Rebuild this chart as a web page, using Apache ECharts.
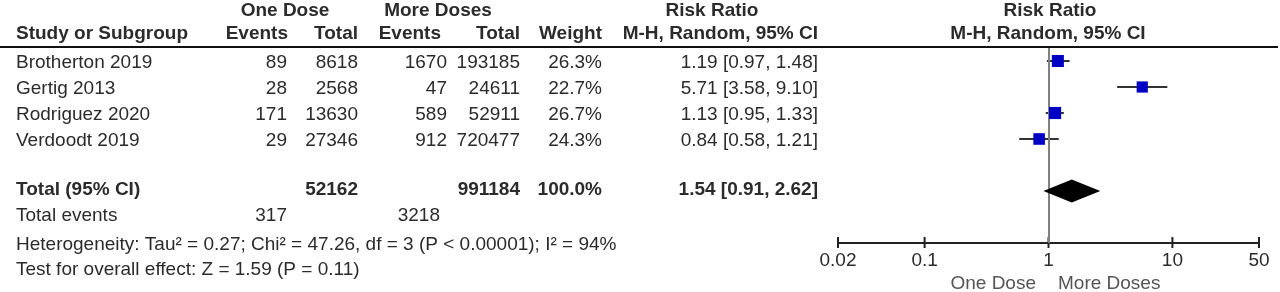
<!DOCTYPE html>
<html>
<head>
<meta charset="utf-8">
<title>Risk Ratio forest plot</title>
<script src="https://cdn.jsdelivr.net/npm/echarts@6/dist/echarts.min.js"></script>
<style>
  html, body { margin: 0; padding: 0; background: #fff; }
  #forestChart { width: 1280px; height: 292px; }
</style>
</head>
<body>
<div id="forestChart"></div>
<script>
// study data
const studies = ['Brotherton 2019', 'Gertig 2013', 'Rodriguez 2020', 'Verdoodt 2019'];
const oneEvents = [89, 28, 171, 29];
const oneTotal = [8618, 2568, 13630, 27346];
const moreEvents = [1670, 47, 589, 912];
const moreTotal = [193185, 24611, 52911, 720477];
const weights = [26.3, 22.7, 26.7, 24.3];
const riskRatio = [1.19, 5.71, 1.13, 0.84];
const ciLow = [0.97, 3.58, 0.95, 0.58];
const ciHigh = [1.48, 9.10, 1.33, 1.21];

// pooled result
const pooled = [1.54, 0.91, 2.62]; // estimate, low, high
const pooledTotals = [52162, 991184];
const pooledWeight = 100.0;
const totalEvents = [317, 3218];
const heterogeneity = 'Heterogeneity: Tau\u00b2 = 0.27; Chi\u00b2 = 47.26, df = 3 (P < 0.00001); I\u00b2 = 94%';
const overallEffect = 'Test for overall effect: Z = 1.59 (P = 0.11)';

const tickValues = [0.02, 0.1, 1, 10, 50];
const tickLabels = ['0.02', '0.1', '1', '10', '50'];

const FONT = '"Liberation Sans", Arial, sans-serif';
const INK = '#2b2b2b';
const POOLED_ROW = 5;

function txt(x, y, text, align, bold, color) {
  return {
    type: 'text',
    x: x,
    y: y,
    silent: true,
    style: {
      text: text,
      fill: color || INK,
      fontFamily: FONT,
      fontSize: 19,
      fontWeight: bold ? 'bold' : 'normal',
      align: align,
      textAlign: align,
      verticalAlign: 'middle',
      textVerticalAlign: 'middle'
    }
  };
}

function ci(i) {
  return riskRatio[i].toFixed(2) + ' [' + ciLow[i].toFixed(2) + ', ' + ciHigh[i].toFixed(2) + ']';
}

// table text
const graphics = [
  txt(285, 11, 'One Dose', 'center', true),
  txt(438, 11, 'More Doses', 'center', true),
  txt(712, 11, 'Risk Ratio', 'center', true),
  txt(1050, 11, 'Risk Ratio', 'center', true),
  txt(16, 34, 'Study or Subgroup', 'left', true),
  txt(288, 34, 'Events', 'right', true),
  txt(358, 34, 'Total', 'right', true),
  txt(441, 34, 'Events', 'right', true),
  txt(520, 34, 'Total', 'right', true),
  txt(602, 34, 'Weight', 'right', true),
  txt(818, 34, 'M-H, Random, 95% CI', 'right', true),
  txt(1048, 34, 'M-H, Random, 95% CI', 'center', true),
  {
    type: 'line',
    silent: true,
    shape: { x1: 0, y1: 47, x2: 1278, y2: 47 },
    style: { stroke: '#111', lineWidth: 2 }
  }
];

studies.forEach(function (name, i) {
  const y = 63 + i * 26;
  graphics.push(
    txt(16, y, name, 'left'),
    txt(287, y, String(oneEvents[i]), 'right'),
    txt(358, y, String(oneTotal[i]), 'right'),
    txt(447, y, String(moreEvents[i]), 'right'),
    txt(520, y, String(moreTotal[i]), 'right'),
    txt(602, y, weights[i].toFixed(1) + '%', 'right'),
    txt(818, y, ci(i), 'right')
  );
});

graphics.push(
  txt(16, 190, 'Total (95% CI)', 'left', true),
  txt(358, 190, String(pooledTotals[0]), 'right', true),
  txt(520, 190, String(pooledTotals[1]), 'right', true),
  txt(602, 190, pooledWeight.toFixed(1) + '%', 'right', true),
  txt(818, 190, pooled[0].toFixed(2) + ' [' + pooled[1].toFixed(2) + ', ' + pooled[2].toFixed(2) + ']', 'right', true),
  txt(16, 216, 'Total events', 'left'),
  txt(287, 216, String(totalEvents[0]), 'right'),
  txt(440, 216, String(totalEvents[1]), 'right'),
  txt(16, 245, heterogeneity, 'left'),
  txt(16, 270, overallEffect, 'left'),
  txt(1036, 284, 'One Dose', 'right', false, '#555'),
  txt(1058, 284, 'More Doses', 'left', false, '#555')
);

const myChart = echarts.init(document.getElementById('forestChart'), null, { renderer: 'canvas' });

const option = {
  animation: false,
  backgroundColor: '#fff',
  grid: { left: 838, right: 21, top: 48, bottom: 49 },
  xAxis: {
    type: 'log',
    logBase: 10,
    min: 0.02,
    max: 50,
    position: 'bottom',
    axisLine: { show: true, onZero: false, lineStyle: { color: '#222', width: 2 } },
    axisTick: { show: false },
    axisLabel: { show: false },
    splitLine: { show: false }
  },
  yAxis: {
    type: 'value',
    inverse: true,
    min: -0.5,
    max: 7,
    show: false
  },
  graphic: graphics,
  series: [
    {
      name: 'ci',
      type: 'custom',
      data: studies.map(function (s, i) { return [ciLow[i], ciHigh[i], i]; }),
      encode: { x: [0, 1], y: 2 },
      renderItem: function (params, api) {
        const a = api.coord([api.value(0), api.value(2)]);
        const b = api.coord([api.value(1), api.value(2)]);
        return {
          type: 'line',
          shape: { x1: a[0], y1: a[1], x2: b[0], y2: b[1] },
          style: { stroke: '#333', lineWidth: 2 }
        };
      },
      markLine: {
        silent: true,
        symbol: ['none', 'none'],
        label: { show: false },
        lineStyle: { color: '#808080', width: 2, type: 'solid' },
        data: [{ xAxis: 1 }]
      }
    },
    {
      name: 'estimate',
      type: 'scatter',
      symbol: 'rect',
      data: studies.map(function (s, i) { return [riskRatio[i], i, weights[i]]; }),
      symbolSize: function (d) { return 2.35 * Math.sqrt(d[2]); },
      itemStyle: { color: '#0000c4', opacity: 1 },
      z: 5
    },
    {
      name: 'pooled',
      type: 'custom',
      data: [[pooled[1], pooled[0], pooled[2], POOLED_ROW]],
      encode: { x: [0, 1, 2], y: 3 },
      renderItem: function (params, api) {
        const lo = api.coord([api.value(0), api.value(3)]);
        const mid = api.coord([api.value(1), api.value(3)]);
        const hi = api.coord([api.value(2), api.value(3)]);
        return {
          type: 'polygon',
          shape: { points: [lo, [mid[0], mid[1] - 11.5], hi, [mid[0], mid[1] + 11.5]] },
          style: { fill: '#000' }
        };
      },
      z: 5
    },
    {
      name: 'ticks',
      type: 'custom',
      silent: true,
      data: tickValues.map(function (v, i) { return [v, 7, i]; }),
      encode: { x: 0, y: 1 },
      renderItem: function (params, api) {
        const p = api.coord([api.value(0), api.value(1)]);
        const idx = api.value(2);
        return {
          type: 'group',
          children: [
            {
              type: 'line',
              shape: { x1: p[0], y1: p[1] - 6, x2: p[0], y2: p[1] + 5 },
              style: { stroke: '#222', lineWidth: 2 }
            },
            {
              type: 'text',
              x: p[0],
              y: p[1] + 18,
              style: {
                text: tickLabels[idx],
                fill: INK,
                fontFamily: FONT,
                fontSize: 19,
                align: 'center',
                textAlign: 'center',
                verticalAlign: 'middle',
                textVerticalAlign: 'middle'
              }
            }
          ]
        };
      }
    }
  ]
};

myChart.setOption(option);
window.addEventListener('resize', function () {
  myChart.resize();
});
</script>
</body>
</html>
